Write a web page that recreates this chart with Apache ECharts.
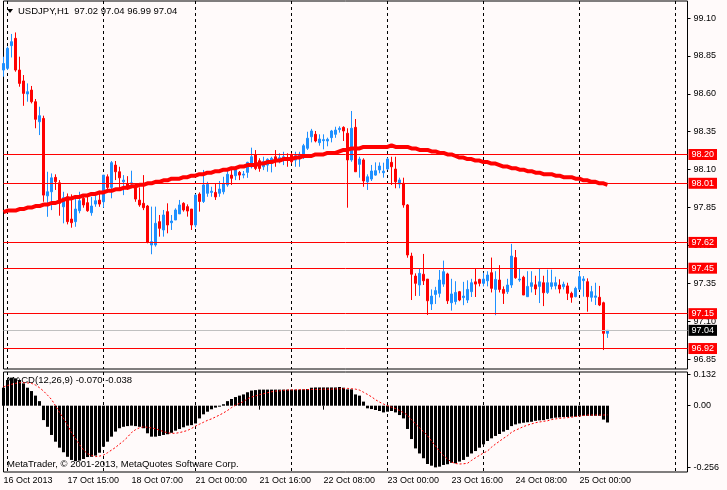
<!DOCTYPE html>
<html>
<head>
<meta charset="utf-8">
<title>USDJPY,H1</title>
<script src="https://cdn.jsdelivr.net/npm/echarts@6/dist/echarts.min.js"></script>
<style>
	html, body { margin: 0; padding: 0; background: #fffafa; }
	#chart { width: 727px; height: 490px; }
</style>
</head>
<body>
<div id="chart"></div>
<script type="text/javascript">
	// H1 bars, 16 Oct 23:00 .. 25 Oct 07:00
	var open = [
		98.757,98.768,98.918,98.966,98.757,98.685,98.599,98.625,98.548,98.416,
		98.438,97.927,97.954,98.049,98.013,97.855,97.921,97.774,97.757,97.829,
		97.911,97.882,97.816,97.873,97.899,97.888,98.053,97.983,98.130,98.086,
		98.020,98.009,98.005,97.987,97.899,97.878,97.860,97.603,97.603,97.757,
		97.702,97.823,97.750,97.768,97.808,97.878,97.856,97.840,97.735,97.939,
		97.890,97.944,97.950,97.950,97.944,97.954,97.999,98.064,98.060,98.082,
		98.064,98.082,98.119,98.196,98.159,98.119,98.130,98.159,98.185,98.170,
		98.163,98.179,98.196,98.163,98.185,98.179,98.241,98.317,98.333,98.278,
		98.291,98.289,98.311,98.333,98.364,98.379,98.340,98.164,98.379,98.135,
		98.164,98.020,98.038,98.064,98.098,98.080,98.104,98.148,98.104,98.005,
		98.010,97.867,97.530,97.398,97.339,97.410,97.378,97.214,97.277,97.284,
		97.345,97.412,97.222,97.230,97.295,97.256,97.240,97.295,97.360,97.376,
		97.350,97.367,97.420,97.310,97.372,97.310,97.295,97.339,97.520,97.372,
		97.390,97.262,97.330,97.340,97.330,97.354,97.290,97.330,97.333,97.339,
		97.328,97.333,97.284,97.262,97.311,97.368,97.361,97.258,97.258,97.258,
		97.222,97.020
	];
	var close = [
		98.800,98.900,98.944,98.757,98.669,98.603,98.614,98.548,98.432,98.456,
		97.932,97.954,98.046,98.020,97.878,97.915,97.757,97.750,97.840,97.895,
		97.867,97.829,97.860,97.895,97.873,98.064,97.983,98.146,98.086,98.046,
		98.031,97.987,98.013,97.906,97.867,97.849,97.621,97.625,97.746,97.713,
		97.801,97.735,97.761,97.834,97.867,97.834,97.827,97.735,97.932,97.890,
		97.999,98.003,97.958,97.920,97.972,98.009,98.069,98.043,98.108,98.064,
		98.071,98.148,98.185,98.108,98.108,98.152,98.168,98.175,98.152,98.179,
		98.185,98.164,98.152,98.192,98.201,98.258,98.307,98.355,98.289,98.302,
		98.298,98.300,98.355,98.361,98.373,98.355,98.164,98.373,98.086,98.170,
		98.025,98.053,98.091,98.093,98.124,98.090,98.170,98.119,98.020,98.032,
		97.867,97.537,97.410,97.350,97.416,97.367,97.235,97.266,97.302,97.372,
		97.427,97.235,97.280,97.290,97.240,97.266,97.310,97.354,97.345,97.350,
		97.378,97.405,97.317,97.376,97.310,97.284,97.339,97.530,97.387,97.378,
		97.273,97.330,97.354,97.313,97.360,97.288,97.354,97.354,97.354,97.313,
		97.344,97.284,97.258,97.317,97.394,97.379,97.262,97.295,97.267,97.207,
		97.020,97.040
	];
	var high = [
		98.845,98.912,98.995,99.005,98.845,98.724,98.669,98.652,98.566,98.515,
		98.456,98.086,98.075,98.069,98.031,97.954,97.943,97.937,97.911,97.954,
		97.933,97.921,97.921,97.928,97.961,98.064,98.069,98.157,98.157,98.119,
		98.064,98.057,98.093,98.009,97.983,98.064,97.867,97.856,97.856,97.801,
		97.834,97.878,97.801,97.845,97.900,97.885,97.871,97.840,97.939,97.950,
		98.098,98.020,97.987,98.005,98.025,98.053,98.098,98.119,98.119,98.091,
		98.091,98.152,98.245,98.229,98.175,98.185,98.175,98.185,98.229,98.208,
		98.218,98.208,98.210,98.218,98.218,98.270,98.350,98.369,98.355,98.333,
		98.333,98.311,98.362,98.383,98.386,98.386,98.373,98.487,98.434,98.185,
		98.175,98.069,98.131,98.148,98.148,98.146,98.179,98.185,98.185,98.047,
		98.047,97.873,97.552,97.416,97.449,97.544,97.378,97.310,97.327,97.438,
		97.500,97.420,97.380,97.364,97.300,97.360,97.370,97.380,97.450,97.380,
		97.420,97.430,97.520,97.430,97.470,97.330,97.380,97.610,97.570,97.450,
		97.400,97.430,97.430,97.400,97.450,97.400,97.440,97.440,97.394,97.377,
		97.361,97.354,97.295,97.328,97.427,97.398,97.383,97.333,97.354,97.333,
		97.229,97.040
	];
	var low = [
		98.713,98.757,98.840,98.746,98.647,98.521,98.548,98.537,98.373,98.328,
		97.888,97.789,97.833,97.966,97.796,97.746,97.739,97.717,97.723,97.812,
		97.849,97.822,97.796,97.855,97.855,97.849,97.961,97.911,98.031,97.977,
		97.932,97.966,97.977,97.888,97.855,97.833,97.614,97.542,97.592,97.658,
		97.658,97.680,97.702,97.768,97.808,97.823,97.790,97.702,97.720,97.823,
		97.880,97.921,97.921,97.900,97.921,97.937,97.987,97.999,98.031,98.031,
		98.043,98.046,98.108,98.097,98.086,98.097,98.086,98.082,98.119,98.142,
		98.130,98.119,98.140,98.119,98.119,98.170,98.230,98.280,98.280,98.258,
		98.234,98.254,98.280,98.310,98.344,98.289,97.849,98.152,98.086,98.047,
		97.987,97.966,98.025,98.060,98.076,98.047,98.098,97.999,97.977,97.977,
		97.849,97.519,97.240,97.267,97.267,97.339,97.141,97.174,97.214,97.257,
		97.327,97.214,97.170,97.210,97.232,97.206,97.220,97.260,97.260,97.330,
		97.330,97.330,97.290,97.140,97.290,97.214,97.280,97.320,97.380,97.360,
		97.273,97.262,97.290,97.273,97.220,97.200,97.280,97.310,97.310,97.284,
		97.310,97.240,97.222,97.258,97.306,97.262,97.163,97.229,97.207,97.200,
		96.910,96.990
	];
	// moving average (thick red line)
	var ma = [
		97.82,97.83,97.83,97.83,97.84,97.84,97.85,97.85,97.86,97.86,
		97.87,97.87,97.88,97.88,97.89,97.90,97.91,97.91,97.92,97.92,
		97.93,97.93,97.94,97.94,97.95,97.95,97.96,97.96,97.97,97.97,
		97.98,97.98,97.99,97.99,98.00,98.00,98.01,98.01,98.02,98.02,
		98.03,98.03,98.04,98.04,98.04,98.05,98.05,98.06,98.06,98.07,
		98.07,98.08,98.08,98.09,98.09,98.10,98.10,98.11,98.11,98.12,
		98.12,98.13,98.13,98.13,98.14,98.14,98.15,98.15,98.16,98.16,
		98.17,98.17,98.17,98.18,98.18,98.19,98.19,98.19,98.20,98.20,
		98.20,98.21,98.21,98.21,98.22,98.23,98.23,98.24,98.24,98.24,
		98.25,98.25,98.25,98.25,98.25,98.25,98.25,98.26,98.25,98.25,
		98.25,98.25,98.24,98.24,98.23,98.23,98.23,98.22,98.22,98.21,
		98.21,98.20,98.20,98.19,98.18,98.18,98.17,98.17,98.16,98.16,
		98.15,98.15,98.14,98.14,98.13,98.12,98.12,98.11,98.11,98.10,
		98.10,98.09,98.09,98.08,98.08,98.07,98.07,98.07,98.06,98.06,
		98.05,98.05,98.05,98.04,98.04,98.03,98.03,98.02,98.02,98.01,
		98.01,98.00
	];
	// MACD(12,26,9): main histogram and signal
	var macd = [
		0.075,0.107,0.117,0.114,0.107,0.093,0.075,0.061,0.042,0.019,
		-0.060,-0.088,-0.122,-0.150,-0.175,-0.194,-0.213,-0.226,-0.231,-0.229,
		-0.222,-0.214,-0.213,-0.208,-0.196,-0.171,-0.150,-0.129,-0.108,-0.094,
		-0.088,-0.085,-0.083,-0.085,-0.088,-0.094,-0.115,-0.129,-0.129,-0.126,
		-0.122,-0.119,-0.113,-0.104,-0.097,-0.090,-0.083,-0.081,-0.074,-0.053,
		-0.036,-0.025,-0.015,-0.008,-0.004,0.006,0.019,0.028,0.036,0.042,
		0.047,0.056,0.063,0.065,0.067,0.067,0.067,0.067,0.067,0.067,
		0.067,0.067,0.067,0.067,0.067,0.068,0.069,0.075,0.076,0.076,
		0.076,0.076,0.076,0.076,0.078,0.075,0.068,0.068,0.047,0.042,
		0.017,-0.011,-0.014,-0.018,-0.022,-0.028,-0.025,-0.022,-0.028,-0.039,
		-0.053,-0.097,-0.139,-0.178,-0.199,-0.219,-0.243,-0.250,-0.257,-0.254,
		-0.247,-0.244,-0.238,-0.240,-0.233,-0.226,-0.213,-0.199,-0.189,-0.175,
		-0.161,-0.147,-0.136,-0.126,-0.118,-0.108,-0.101,-0.085,-0.078,-0.074,
		-0.071,-0.069,-0.067,-0.063,-0.061,-0.060,-0.056,-0.053,-0.050,-0.049,
		-0.047,-0.047,-0.046,-0.046,-0.044,-0.042,-0.042,-0.042,-0.042,-0.042,
		-0.058,-0.070
	];
	var signal = [
		0.079,0.084,0.089,0.093,0.096,0.096,0.095,0.093,0.086,0.075,
		0.061,0.044,0.026,0.000,-0.028,-0.053,-0.080,-0.112,-0.137,-0.162,
		-0.185,-0.200,-0.207,-0.212,-0.210,-0.206,-0.196,-0.185,-0.174,-0.160,
		-0.147,-0.131,-0.112,-0.100,-0.092,-0.088,-0.090,-0.093,-0.096,-0.102,
		-0.108,-0.113,-0.115,-0.115,-0.112,-0.108,-0.103,-0.095,-0.085,-0.077,
		-0.069,-0.061,-0.055,-0.047,-0.039,-0.030,-0.020,-0.008,0.002,0.010,
		0.017,0.029,0.036,0.041,0.046,0.050,0.054,0.058,0.061,0.062,
		0.064,0.065,0.066,0.066,0.067,0.067,0.067,0.068,0.068,0.068,
		0.069,0.069,0.069,0.070,0.070,0.071,0.072,0.071,0.069,0.065,
		0.056,0.047,0.037,0.025,0.015,0.007,0.000,-0.006,-0.012,-0.020,
		-0.029,-0.039,-0.058,-0.076,-0.092,-0.108,-0.125,-0.147,-0.168,-0.190,
		-0.208,-0.222,-0.235,-0.241,-0.243,-0.242,-0.240,-0.228,-0.217,-0.207,
		-0.197,-0.189,-0.173,-0.160,-0.148,-0.136,-0.125,-0.111,-0.102,-0.095,
		-0.087,-0.081,-0.076,-0.071,-0.068,-0.065,-0.063,-0.058,-0.055,-0.053,
		-0.051,-0.050,-0.048,-0.045,-0.043,-0.041,-0.039,-0.039,-0.039,-0.039,
		-0.039,-0.038
	];

	var barSlots = 172; // bars plus empty space at the right
	var timeTicks = [0, 16, 32, 48, 64, 80, 96, 112, 128, 144];
	var timeLabels = ['16 Oct 2013', '17 Oct 15:00', '18 Oct 07:00', '21 Oct 00:00', '21 Oct 16:00',
		'22 Oct 08:00', '23 Oct 00:00', '23 Oct 16:00', '24 Oct 08:00', '25 Oct 00:00'];
	var daySeps = [1, 25, 48, 72, 96, 120, 144, 168];
	var priceTicks = [99.10, 98.85, 98.60, 98.35, 98.10, 97.85, 97.60, 97.35, 97.10, 96.85];
	var macdTicks = [0.132, 0, -0.256];
	var levels = [98.20, 98.01, 97.62, 97.45, 97.15, 96.92];
	var bid = 97.04;

	var FONT = '"Liberation Sans", Arial, sans-serif';
	var categories = [];
	for (var i = 0; i < barSlots; i++) categories.push(String(i));
	var candles = [];
	for (var j = 0; j < open.length; j++) candles.push([open[j], close[j], low[j], high[j]]);

	function timeAxis(gridIndex, withLabels) {
		return {
			type: 'category',
			gridIndex: gridIndex,
			data: categories,
			boundaryGap: false,
			axisLine: { show: false },
			axisTick: {
				show: withLabels,
				interval: function (idx) { return timeTicks.indexOf(idx) >= 0; },
				length: 4,
				lineStyle: { color: '#000' }
			},
			axisLabel: {
				show: withLabels,
				interval: function (idx) { return timeTicks.indexOf(idx) >= 0; },
				formatter: function (v) { return timeLabels[timeTicks.indexOf(parseInt(v, 10))] || ''; },
				align: 'left',
				margin: 4,
				color: '#000',
				fontSize: 9,
				fontFamily: FONT
			},
			splitLine: {
				show: true,
				interval: function (idx) { return daySeps.indexOf(idx) >= 0; },
				lineStyle: { color: '#000', width: 1, type: [3, 3] }
			}
		};
	}

	var levelLines = levels.map(function (v) {
		return {
			yAxis: v,
			lineStyle: { color: '#ff0000', width: 1, type: 'solid' },
			label: { backgroundColor: '#ff0000' }
		};
	});
	levelLines.push({
		yAxis: bid,
		lineStyle: { color: '#c0c0c0', width: 1, type: 'solid' },
		label: { backgroundColor: '#000' }
	});

	var option = {
		backgroundColor: '#fffafa',
		animation: false,
		grid: [
			{ left: 3.5, width: 684, top: 1, height: 368, show: true, borderColor: '#000', borderWidth: 1, backgroundColor: 'transparent' },
			{ left: 3.5, width: 684, top: 372, height: 100, show: true, borderColor: '#000', borderWidth: 1, backgroundColor: 'transparent' }
		],
		xAxis: [timeAxis(0, false), timeAxis(1, true)],
		yAxis: [
			{
				type: 'value', gridIndex: 0, position: 'right',
				min: 96.785, max: 99.2124,
				axisLine: { show: false },
				axisTick: { show: true, customValues: priceTicks, length: 3, lineStyle: { color: '#000' } },
				axisLabel: {
					customValues: priceTicks,
					formatter: function (v) { return v.toFixed(2); },
					margin: 6, color: '#000', fontSize: 9, fontFamily: FONT
				},
				splitLine: { show: false }
			},
			{
				type: 'value', gridIndex: 1, position: 'right',
				min: -0.2763, max: 0.1404,
				axisLine: { show: false },
				axisTick: { show: true, customValues: macdTicks, length: 3, lineStyle: { color: '#000' } },
				axisLabel: {
					customValues: macdTicks,
					formatter: function (v) { return v === 0 ? '0.00' : v.toFixed(3); },
					margin: 6, color: '#000', fontSize: 9, fontFamily: FONT
				},
				splitLine: { show: false }
			}
		],
		graphic: [
			{ type: 'polygon', shape: { points: [[7, 9], [13, 9], [10, 13]] }, style: { fill: '#000' } },
			{ type: 'text', x: 18, y: 11, style: { text: 'USDJPY,H1  97.02 97.04 96.99 97.04', fill: '#000', font: '9.5px ' + FONT, verticalAlign: 'middle' } },
			{ type: 'text', x: 7, y: 380, style: { text: 'MACD(12,26,9) -0.070 -0.038', fill: '#000', font: '9.5px ' + FONT, verticalAlign: 'middle' } },
			{ type: 'text', x: 7, y: 464, style: { text: 'MetaTrader, \u00a9 2001-2013, MetaQuotes Software Corp.', fill: '#000', font: '9.5px ' + FONT, verticalAlign: 'middle' } }
		],
		series: [
			{
				name: 'USDJPY',
				type: 'candlestick',
				xAxisIndex: 0, yAxisIndex: 0,
				data: candles,
				barWidth: 2,
				clip: false,
				itemStyle: {
					color: '#1e90ff', color0: '#ff0000',
					borderColor: '#1e90ff', borderColor0: '#ff0000',
					borderWidth: 1
				},
				markLine: {
					silent: true,
					symbol: ['none', 'none'],
					label: {
						show: true,
						position: 'end',
						distance: 1,
						formatter: function (p) { return p.value.toFixed(2); },
						color: '#fff',
						padding: [1, 3, 0, 3],
						lineHeight: 10,
						fontSize: 9,
						fontFamily: FONT
					},
					data: levelLines
				}
			},
			{
				name: 'MA',
				type: 'line',
				xAxisIndex: 0, yAxisIndex: 0,
				data: ma,
				symbol: 'none',
				lineStyle: { color: '#ff0000', width: 4 }
			},
			{
				name: 'MACD',
				type: 'bar',
				xAxisIndex: 1, yAxisIndex: 1,
				data: macd,
				barWidth: 3,
				itemStyle: { color: '#000' }
			},
			{
				name: 'Signal',
				type: 'line',
				xAxisIndex: 1, yAxisIndex: 1,
				data: signal,
				symbol: 'none',
				lineStyle: { color: '#ff0000', width: 1, type: [2, 2] }
			}
		]
	};

	var myChart = echarts.init(document.getElementById('chart'));
	myChart.setOption(option);
</script>
</body>
</html>
